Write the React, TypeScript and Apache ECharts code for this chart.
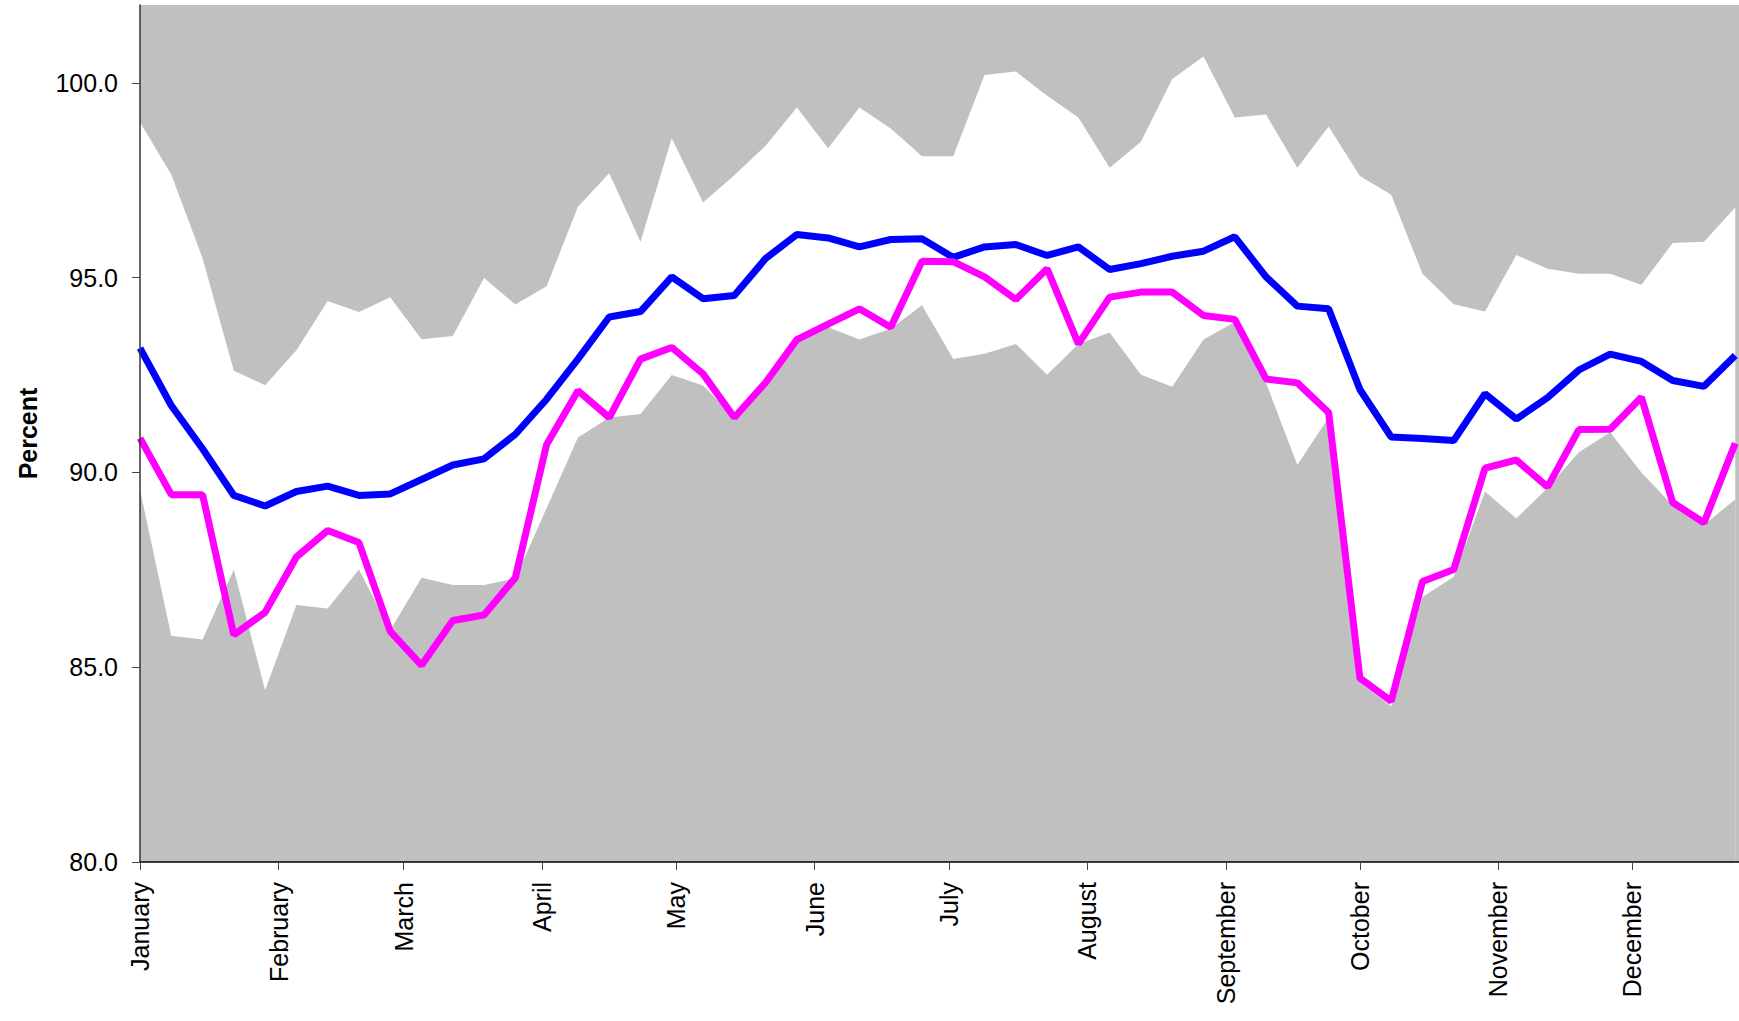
import React, { useEffect, useRef } from "react";
import * as echarts from "echarts";

const monthNames = [
  "January", "February", "March", "April", "May", "June",
  "July", "August", "September", "October", "November", "December",
];
const monthStartDays = [0, 31, 59, 90, 120, 151, 181, 212, 243, 273, 304, 334];
const yTickValues = [80, 85, 90, 95, 100];

const blueSeries = [
  93.19, 91.72, 90.61, 89.41, 89.14, 89.51, 89.65, 89.41, 89.45, 89.82,
  90.19, 90.35, 90.98, 91.88, 92.91, 93.99, 94.13, 95.02, 94.46, 94.54,
  95.49, 96.11, 96.02, 95.79, 95.98, 96.0, 95.52, 95.79, 95.85, 95.57,
  95.79, 95.21, 95.36, 95.55, 95.68, 96.05, 95.02, 94.27, 94.2, 92.13,
  90.91, 90.87, 90.82, 92.02, 91.37, 91.92, 92.63, 93.04, 92.85, 92.36,
  92.21, 93.0,
];
const magentaSeries = [
  90.88, 89.43, 89.43, 85.83, 86.41, 87.83, 88.51, 88.2, 85.92, 85.05,
  86.2, 86.34, 87.3, 90.72, 92.1, 91.41, 92.91, 93.21, 92.53, 91.41,
  92.31, 93.41, 93.81, 94.2, 93.73, 95.42, 95.41, 95.02, 94.44, 95.23,
  93.3, 94.5, 94.63, 94.63, 94.03, 93.93, 92.4, 92.3, 91.54, 84.72,
  84.13, 87.2, 87.51, 90.11, 90.32, 89.63, 91.1, 91.11, 91.93, 89.23,
  88.71, 90.75,
];
const maxSeries = [
  98.99, 97.65, 95.5, 92.61, 92.24, 93.14, 94.4, 94.12, 94.5, 93.42,
  93.5, 94.99, 94.31, 94.78, 96.82, 97.68, 95.92, 98.58, 96.93, 97.63,
  98.39, 99.37, 98.32, 99.37, 98.83, 98.12, 98.12, 100.2, 100.29, 99.67,
  99.11, 97.82, 98.49, 100.1, 100.68, 99.11, 99.19, 97.82, 98.88, 97.61,
  97.13, 95.1, 94.32, 94.13, 95.58, 95.23, 95.1, 95.1, 94.82, 95.89,
  95.92, 96.8,
];
const minSeries = [
  89.56, 85.81, 85.71, 87.51, 84.41, 86.6, 86.51, 87.51, 85.95, 87.3,
  87.11, 87.11, 87.28, 89.09, 90.9, 91.41, 91.5, 92.5, 92.23, 91.41,
  92.4, 93.38, 93.73, 93.41, 93.69, 94.29, 92.91, 93.05, 93.3, 92.51,
  93.3, 93.59, 92.51, 92.2, 93.41, 93.86, 92.3, 90.19, 91.41, 84.6,
  84.0, 86.8, 87.32, 89.51, 88.82, 89.6, 90.52, 91.03, 90.0, 89.15,
  88.65, 89.31,
];

const DAYS_PER_WEEK = 7;
const DAYS_IN_YEAR = 365;
const FONT = '"Liberation Sans", Arial, Helvetica, sans-serif';
const GRAY = "#C0C0C0";

function toPairs(values: number[]) {
  return values.map((v, i) => [i * DAYS_PER_WEEK, v]);
}

export default function App() {
  const ref = useRef<HTMLDivElement>(null);

  useEffect(() => {
    if (!ref.current) return;
    const chart = echarts.init(ref.current, undefined, { renderer: "svg" });
    chart.setOption({
      animation: false,
      grid: {
        left: 140,
        right: 0,
        top: 5,
        bottom: 159,
        show: true,
        backgroundColor: GRAY,
        borderWidth: 0,
      },
      xAxis: {
        type: "value",
        min: 0,
        max: DAYS_IN_YEAR,
        z: 10,
        splitLine: { show: false },
        axisLine: { show: true, lineStyle: { color: "#000", width: 1.5 } },
        axisTick: {
          show: true,
          customValues: monthStartDays,
          length: 8,
          lineStyle: { color: "#444", width: 1 },
        },
        axisLabel: {
          customValues: monthStartDays,
          rotate: 90,
          margin: 20,
          fontSize: 25,
          fontFamily: FONT,
          color: "#000",
          formatter: (v: number) => {
            const idx = monthStartDays.indexOf(Math.round(v));
            return idx >= 0 ? monthNames[idx] : "";
          },
        },
      },
      yAxis: {
        type: "value",
        min: 80,
        max: 102,
        z: 10,
        name: "Percent",
        nameLocation: "middle",
        nameRotate: 90,
        nameGap: 100,
        nameTextStyle: {
          fontSize: 25,
          fontWeight: "bold",
          fontFamily: FONT,
          color: "#000",
        },
        splitLine: { show: false },
        axisLine: { show: true, lineStyle: { color: "#333", width: 1.5 } },
        axisTick: {
          show: true,
          customValues: yTickValues,
          length: 8,
          lineStyle: { color: "#444", width: 1 },
        },
        axisLabel: {
          customValues: yTickValues,
          margin: 22,
          fontSize: 25,
          fontFamily: FONT,
          color: "#000",
          formatter: (v: number) => v.toFixed(1),
        },
      },
      series: [
        {
          name: "Max",
          type: "line",
          data: toPairs(maxSeries),
          symbol: "none",
          silent: true,
          lineStyle: { width: 0, opacity: 0 },
          areaStyle: { color: "#FFFFFF", opacity: 1, origin: "start" },
          z: 1,
        },
        {
          name: "Min",
          type: "line",
          data: toPairs(minSeries),
          symbol: "none",
          silent: true,
          lineStyle: { width: 0, opacity: 0 },
          areaStyle: { color: GRAY, opacity: 1, origin: "start" },
          z: 2,
        },
        {
          name: "Blue",
          type: "line",
          data: toPairs(blueSeries),
          symbol: "none",
          lineStyle: { color: "#0000FF", width: 7 },
          z: 3,
        },
        {
          name: "Magenta",
          type: "line",
          data: toPairs(magentaSeries),
          symbol: "none",
          lineStyle: { color: "#FF00FF", width: 7 },
          z: 4,
        },
      ],
    });
    return () => chart.dispose();
  }, []);

  return (
    <div
      style={{
        position: "fixed",
        left: 0,
        top: 0,
        width: 1739,
        height: 1021,
        overflow: "hidden",
        background: "#fff",
      }}
    >
      <div ref={ref} style={{ width: 1771, height: 1021 }} />
    </div>
  );
}
